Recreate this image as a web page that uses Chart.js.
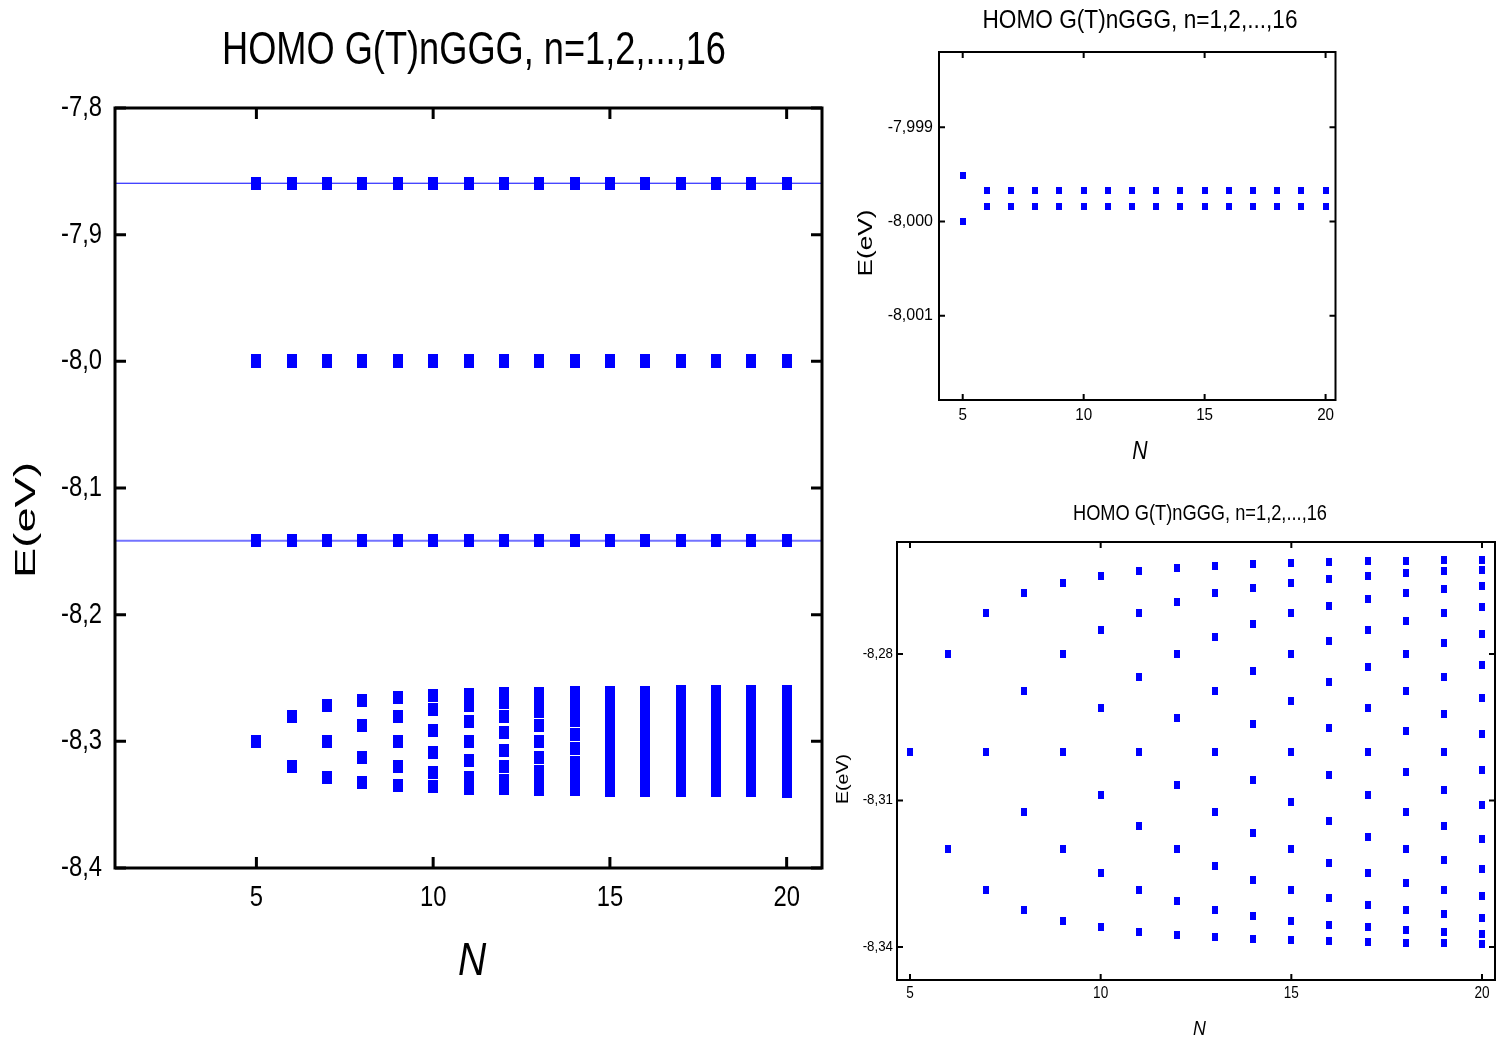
<!DOCTYPE html>
<html>
<head>
<meta charset="utf-8">
<title>HOMO G(T)nGGG</title>
<script src="https://cdn.jsdelivr.net/npm/chart.js@4.4.1/dist/chart.umd.min.js"></script>
<style>
html,body{margin:0;padding:0;background:#fff;}
body{width:1502px;height:1041px;position:relative;overflow:hidden;}
canvas{position:absolute;}
</style>
</head>
<body>
<canvas id="mainChart" width="850" height="1041" style="left:0;top:0;width:850px;height:1041px"></canvas>
<canvas id="topChart" width="652" height="480" style="left:850px;top:0;width:652px;height:480px"></canvas>
<canvas id="bandChart" width="672" height="561" style="left:830px;top:480px;width:672px;height:561px"></canvas>
<script>
// ===== data =====
let titleText = "HOMO G(T)nGGG, n=1,2,...,16"

let nSizes = [5,6,7,8,9,10,11,12,13,14,15,16,17,18,19,20]

// isolated levels (one point per N)
let upperLevel = [-7.8594,-7.8594,-7.8594,-7.8594,-7.8594,-7.8594,-7.8594,-7.8594,-7.8594,-7.8594,-7.8594,-7.8594,-7.8594,-7.8594,-7.8594,-7.8594]
let lowerLevel = [-8.1416,-8.1416,-8.1416,-8.1416,-8.1416,-8.1416,-8.1416,-8.1416,-8.1416,-8.1416,-8.1416,-8.1416,-8.1416,-8.1416,-8.1416,-8.1416]

// the -8,000 pair
let midUpper = [-7.99951,-7.99967,-7.99967,-7.99967,-7.99967,-7.99967,-7.99967,-7.99967,-7.99967,-7.99967,-7.99967,-7.99967,-7.99967,-7.99967,-7.99967,-7.99967]
let midLower = [-8.00000,-7.99984,-7.99984,-7.99984,-7.99984,-7.99984,-7.99984,-7.99984,-7.99984,-7.99984,-7.99984,-7.99984,-7.99984,-7.99984,-7.99984,-7.99984]

// band around -8,30
let band5  = [-8.3000]
let band6  = [-8.2800,-8.3200]
let band7  = [-8.2717,-8.3000,-8.3283]
let band8  = [-8.2676,-8.2876,-8.3124,-8.3324]
let band9  = [-8.2654,-8.2800,-8.3000,-8.3200,-8.3346]
let band10 = [-8.2640,-8.2751,-8.2911,-8.3089,-8.3249,-8.3360]
let band11 = [-8.2630,-8.2717,-8.2847,-8.3000,-8.3153,-8.3283,-8.3370]
let band12 = [-8.2624,-8.2694,-8.2800,-8.2931,-8.3069,-8.3200,-8.3306,-8.3376]
let band13 = [-8.2620,-8.2676,-8.2765,-8.2876,-8.3000,-8.3124,-8.3235,-8.3324,-8.3380]
let band14 = [-8.2616,-8.2664,-8.2738,-8.2834,-8.2943,-8.3057,-8.3166,-8.3262,-8.3336,-8.3384]
let band15 = [-8.2614,-8.2654,-8.2717,-8.2800,-8.2896,-8.3000,-8.3104,-8.3200,-8.3283,-8.3346,-8.3386]
let band16 = [-8.2612,-8.2646,-8.2701,-8.2773,-8.2858,-8.2952,-8.3048,-8.3142,-8.3227,-8.3299,-8.3354,-8.3388]
let band17 = [-8.2610,-8.2640,-8.2687,-8.2751,-8.2826,-8.2911,-8.3000,-8.3089,-8.3174,-8.3249,-8.3313,-8.3360,-8.3390]
let band18 = [-8.2609,-8.2635,-8.2676,-8.2732,-8.2800,-8.2876,-8.2958,-8.3042,-8.3124,-8.3200,-8.3268,-8.3324,-8.3365,-8.3391]
let band19 = [-8.2608,-8.2630,-8.2667,-8.2717,-8.2778,-8.2847,-8.2922,-8.3000,-8.3078,-8.3153,-8.3222,-8.3283,-8.3333,-8.3370,-8.3392]
let band20 = [-8.2607,-8.2627,-8.2660,-8.2704,-8.2759,-8.2822,-8.2891,-8.2963,-8.3037,-8.3109,-8.3178,-8.3241,-8.3296,-8.3340,-8.3373,-8.3393]
let bands = [band5,band6,band7,band8,band9,band10,band11,band12,band13,band14,band15,band16,band17,band18,band19,band20]

// ticks
let xTicks = [5,10,15,20]
let xTickLabels = ["5","10","15","20"]
let mainYTicks = [-7.8,-7.9,-8.0,-8.1,-8.2,-8.3,-8.4]
let mainYLabels = ["-7,8","-7,9","-8,0","-8,1","-8,2","-8,3","-8,4"]
let topYTicks = [-7.999,-8.000,-8.001]
let topYLabels = ["-7,999","-8,000","-8,001"]
let bandYTicks = [-8.28,-8.31,-8.34]
let bandYLabels = ["-8,28","-8,31","-8,34"]

// axis ranges
let mainX = [1,21], mainY = [-8.4,-7.8]
let topX = [4.02,20.41], topY = [-8.001895,-7.998201]
let bandX = [4.659,20.341], bandY = [-8.34676,-8.25706]

// ===== helpers =====
const FONT = '"Liberation Sans",Arial,sans-serif'
const BLUE = "#0000ff"

function marker(w,h){
let c = document.createElement("canvas")
c.width = w
c.height = h
let g = c.getContext("2d")
g.fillStyle = BLUE
g.fillRect(0,0,w,h)
return c
}

function pts(xs,ys){
return xs.map((x,i)=>({x:x,y:ys[i]}))
}

function bandPts(){
let out = []
bands.forEach((arr,i)=>{
arr.forEach(e=>out.push({x:nSizes[i],y:e}))
})
return out
}

function scatterSet(data,img){
return {data:data,pointStyle:img,pointRadius:4,pointHoverRadius:4,borderWidth:0,backgroundColor:BLUE}
}

// text squeezed horizontally (the original figure is stretched vertically)
function putText(ctx,text,x,y,font,sx,align){
ctx.save()
ctx.translate(x,y)
ctx.font = font
if(sx.width) sx = sx.width/ctx.measureText(text).width
ctx.scale(sx,1)
ctx.textAlign = align
ctx.textBaseline = "middle"
ctx.fillText(text,0,0)
ctx.restore()
}

// frame + inward ticks + labels
const framePlugin = {
id:"frame",
afterDraw(chart,args,o){
let ctx = chart.ctx, a = chart.chartArea
let xs = chart.scales.x, ys = chart.scales.y
let cx = (a.left+a.right)/2, cy = (a.top+a.bottom)/2
ctx.save()
ctx.strokeStyle = "#000"
ctx.fillStyle = "#000"
ctx.lineWidth = o.lineWidth
ctx.beginPath()
xs.ticks.forEach(t=>{
let p = xs.getPixelForValue(t.value)
ctx.moveTo(p,a.bottom); ctx.lineTo(p,a.bottom-o.tickLength)
ctx.moveTo(p,a.top); ctx.lineTo(p,a.top+o.tickLength)
})
ys.ticks.forEach(t=>{
let p = ys.getPixelForValue(t.value)
ctx.moveTo(a.left,p); ctx.lineTo(a.left+o.tickLength,p)
ctx.moveTo(a.right,p); ctx.lineTo(a.right-o.tickLength,p)
})
ctx.stroke()
ctx.strokeRect(a.left,a.top,a.width,a.height)

// tick labels
xs.ticks.forEach((t,i)=>{
putText(ctx,o.xLabels[i],xs.getPixelForValue(t.value),a.bottom+o.xTicks.dy,o.xTicks.size+"px "+FONT,o.xTicks.sx,"center")
})
ys.ticks.forEach((t,i)=>{
putText(ctx,o.yLabels[i],a.left-o.yTicks.pad,ys.getPixelForValue(t.value),o.yTicks.size+"px "+FONT,o.yTicks.sx,"right")
})

// title
putText(ctx,titleText,cx+o.title.dx,o.title.y,o.title.size+"px "+FONT,{width:o.title.width},"center")

// x title
putText(ctx,o.xTitle.text,cx+o.xTitle.dx,a.bottom+o.xTitle.dy,"italic "+o.xTitle.size+"px "+FONT,o.xTitle.sx,"center")

// y title, stretched along its length
ctx.save()
ctx.translate(a.left-o.yTitle.dx,cy+o.yTitle.dy)
ctx.rotate(-Math.PI/2)
putText(ctx,o.yTitle.text,0,0,o.yTitle.size+"px "+FONT,{width:o.yTitle.length},"center")
ctx.restore()
ctx.restore()
}
}

function drawChart(id,c){
return new Chart(document.getElementById(id),{
type:"scatter",
data:{datasets:c.datasets},
plugins:[framePlugin],
options:{
responsive:false,
animation:false,
devicePixelRatio:1,
events:[],
layout:{padding:c.padding},
plugins:{
legend:{display:false},
tooltip:{enabled:false},
title:{display:false},
frame:c.frame
},
scales:{
x:{
type:"linear",
min:c.xRange[0],
max:c.xRange[1],
bounds:"data",
grid:{display:false,drawTicks:false},
border:{display:false},
afterBuildTicks:s=>{ s.ticks = xTicks.map(v=>({value:v})) },
afterFit:s=>{ s.height = c.xAxisHeight },
ticks:{display:false}
},
y:{
type:"linear",
min:c.yRange[0],
max:c.yRange[1],
bounds:"data",
grid:{display:false,drawTicks:false},
border:{display:false},
afterBuildTicks:s=>{ s.ticks = c.yTicks.map(v=>({value:v})) },
afterFit:s=>{ s.width = c.yAxisWidth },
ticks:{display:false}
}
}
}
})
}

// ===== main chart =====
let bigMark = marker(10,13)
drawChart("mainChart",{
datasets:[
scatterSet(pts(nSizes,upperLevel),bigMark),
scatterSet(pts(nSizes,midUpper),bigMark),
scatterSet(pts(nSizes,midLower),bigMark),
scatterSet(pts(nSizes,lowerLevel),bigMark),
scatterSet(bandPts(),bigMark),
{data:[{x:mainX[0],y:upperLevel[0]},{x:mainX[1],y:upperLevel[0]}],showLine:true,borderColor:BLUE,borderWidth:1,pointRadius:0},
{data:[{x:mainX[0],y:lowerLevel[0]},{x:mainX[1],y:lowerLevel[0]}],showLine:true,borderColor:"rgba(0,0,255,0.55)",borderWidth:2,pointRadius:0}
],
padding:{left:0,right:28,top:108,bottom:0},
xRange:mainX, yRange:mainY,
yTicks:mainYTicks,
xAxisHeight:173, yAxisWidth:115,
frame:{lineWidth:3,tickLength:11,
xLabels:xTickLabels, yLabels:mainYLabels,
xTicks:{size:29,sx:0.82,dy:29.5},
yTicks:{size:29,sx:0.82,pad:13},
title:{size:46,width:504,dx:5.5,y:51.5},
xTitle:{text:"N",size:46,sx:0.85,dx:3.5,dy:94},
yTitle:{text:"E(eV)",size:30,length:116,dx:88.5,dy:32}}
})

// ===== upper inset =====
let topMark = marker(6,7)
drawChart("topChart",{
datasets:[
scatterSet(pts(nSizes,midUpper),topMark),
scatterSet(pts(nSizes,midLower),topMark)
],
padding:{left:0,right:166.5,top:52,bottom:0},
xRange:topX, yRange:topY,
yTicks:topYTicks,
xAxisHeight:80, yAxisWidth:89,
frame:{lineWidth:2,tickLength:6,
xLabels:xTickLabels, yLabels:topYLabels,
xTicks:{size:16,sx:0.95,dy:16},
yTicks:{size:16,sx:1,pad:6},
title:{size:26,width:315,dx:2.75,y:21},
xTitle:{text:"N",size:25,sx:0.85,dx:2.75,dy:52},
yTitle:{text:"E(eV)",size:21,length:67,dx:73,dy:17}}
})

// ===== lower inset =====
let bandMark = marker(6,8)
drawChart("bandChart",{
datasets:[
scatterSet(bandPts(),bandMark)
],
padding:{left:0,right:7,top:62,bottom:0},
xRange:bandX, yRange:bandY,
yTicks:bandYTicks,
xAxisHeight:61, yAxisWidth:67,
frame:{lineWidth:2,tickLength:6,
xLabels:xTickLabels, yLabels:bandYLabels,
xTicks:{size:17,sx:0.8,dy:13.5},
yTicks:{size:14,sx:0.95,pad:4},
title:{size:22,width:254,dx:4,y:34},
xTitle:{text:"N",size:21,sx:0.85,dx:3.5,dy:49.5},
yTitle:{text:"E(eV)",size:16,length:50,dx:53,dy:18}}
})
</script>
</body>
</html>
